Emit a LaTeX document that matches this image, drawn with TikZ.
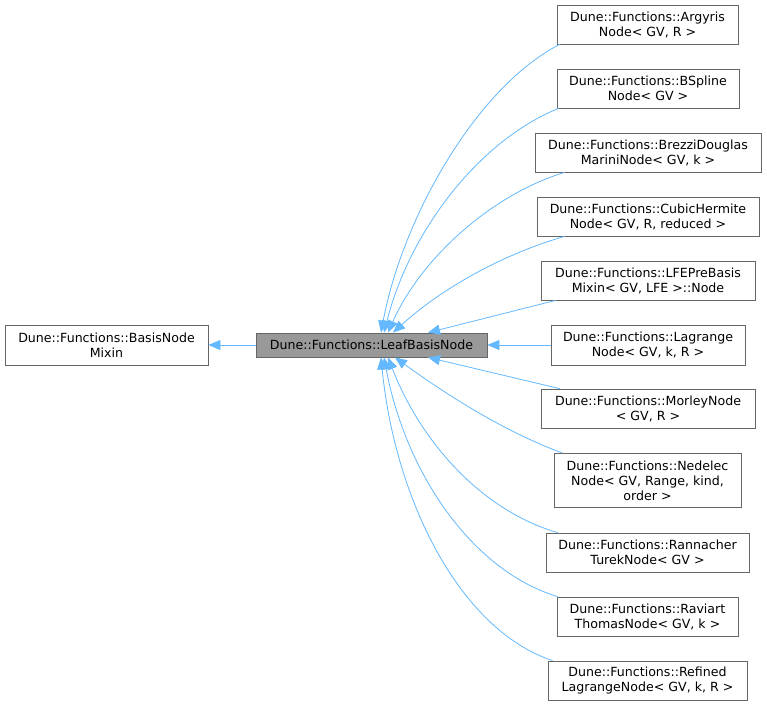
\documentclass[tikz,border=0pt]{standalone}
\usepackage{fontspec}
\setmainfont{DejaVu Sans}
\usetikzlibrary{arrows.meta}
\definecolor{edgeblue}{HTML}{63B8FF}
\definecolor{boxline}{HTML}{666666}
\definecolor{leafgray}{HTML}{999999}
\tikzset{
  cls/.style={draw=boxline,line width=0.8pt,fill=white,align=center,inner sep=0pt},
  leaf/.style={cls,fill=leafgray},
  inh/.style={draw=edgeblue,line width=0.8pt,-{Triangle[length=12pt,width=10pt]}}
}
\begin{document}
\begin{tikzpicture}[x=1pt,y=-1pt,font=\fontsize{12.6}{15}\selectfont]
		\useasboundingbox (0,0) rectangle (767,707);
		\node[cls,minimum width=203,minimum height=40] (mixin) at (106.5,345) {Dune::Functions::BasisNode\\Mixin};
		\node[leaf,minimum width=231,minimum height=24] (leafnode) at (371.5,345) {Dune::Functions::LeafBasisNode};
		\node[cls,minimum width=181,minimum height=39] (argyris) at (647.5,24.5) {Dune::Functions::Argyris\\Node< GV, R >};
		\node[cls,minimum width=182,minimum height=39] (bspline) at (648,88.5) {Dune::Functions::BSpline\\Node< GV >};
		\node[cls,minimum width=226,minimum height=39] (brezzi) at (648,152.5) {Dune::Functions::BrezziDouglas\\MariniNode< GV, k >};
		\node[cls,minimum width=222,minimum height=39] (cubic) at (648,216.5) {Dune::Functions::CubicHermite\\Node< GV, R, reduced >};
		\node[cls,minimum width=214,minimum height=39] (lfe) at (648,280.5) {Dune::Functions::LFEPreBasis\\Mixin< GV, LFE >::Node};
		\node[cls,minimum width=194,minimum height=40] (lagrange) at (648,345) {Dune::Functions::Lagrange\\Node< GV, k, R >};
		\node[cls,minimum width=214,minimum height=39] (morley) at (648,408.5) {Dune::Functions::MorleyNode\\< GV, R >};
		\node[cls,minimum width=187,minimum height=54] (nedelec) at (647.5,480.5) {Dune::Functions::Nedelec\\Node< GV, Range, kind,\\order >};
		\node[cls,minimum width=203,minimum height=39] (rannacher) at (647.5,552.5) {Dune::Functions::Rannacher\\TurekNode< GV >};
		\node[cls,minimum width=181,minimum height=39] (raviart) at (647.5,616.5) {Dune::Functions::Raviart\\ThomasNode< GV, k >};
		\node[cls,minimum width=199,minimum height=39] (refined) at (647.5,680.5) {Dune::Functions::Refined\\LagrangeNode< GV, k, R >};
		% base class
		\draw[inh] (leafnode.west) -- (mixin.east);
		% derived classes, upper half
		\draw[inh] ([xshift=3pt]argyris.south west) .. controls (475,88) and (402,220) .. ([xshift=9.5pt]leafnode.north);
		\draw[inh] ([xshift=2pt]bspline.south west) .. controls (480,140) and (410,230) .. ([xshift=12.5pt]leafnode.north);
		\draw[inh] ([xshift=30pt]brezzi.south west) .. controls (490,195) and (420,260) .. ([xshift=16.5pt]leafnode.north);
		\draw[inh] ([xshift=28pt]cubic.south west) .. controls (500,255) and (440,290) .. ([xshift=21.5pt]leafnode.north);
		\draw[inh] ([xshift=15pt]lfe.south west) -- ([xshift=56.5pt]leafnode.north);
		\draw[inh] (lagrange.west) -- (leafnode.east);
		% derived classes, lower half
		\draw[inh] ([xshift=19pt]morley.north west) -- ([xshift=56.5pt]leafnode.south);
		\draw[inh] ([xshift=9pt]nedelec.north west) .. controls (500,430) and (440,390) .. ([xshift=23.5pt]leafnode.south);
		\draw[inh] ([xshift=12pt]rannacher.north west) .. controls (480,510) and (420,440) .. ([xshift=16.5pt]leafnode.south);
		\draw[inh] ([xshift=1pt]raviart.north west) .. controls (470,570) and (405,470) .. ([xshift=12.5pt]leafnode.south);
		\draw[inh] ([xshift=5pt]refined.north west) .. controls (460,630) and (395,500) .. ([xshift=9.5pt]leafnode.south);
	    \end{tikzpicture}
\end{document}
